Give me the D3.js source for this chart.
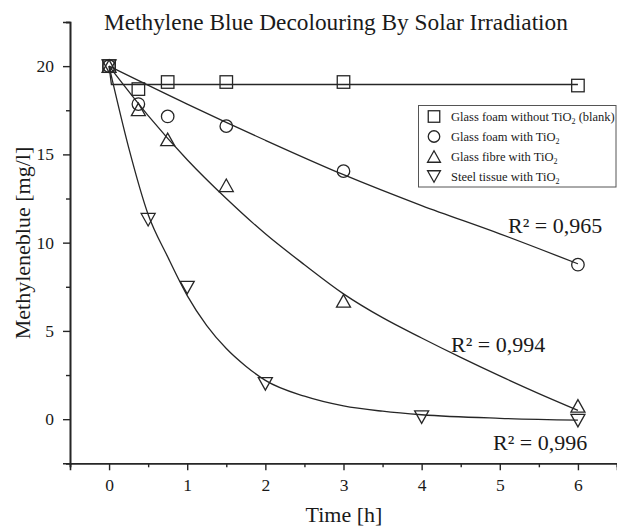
<!DOCTYPE html>
<html>
<head>
<meta charset="utf-8">
<script src="https://cdn.jsdelivr.net/npm/d3@7"></script>
<style>
  html, body { margin: 0; padding: 0; background: #fff; }
  svg { display: block; }
  text { font-family: "Liberation Serif", "Times New Roman", serif; fill: #1a1a1a; }
</style>
</head>
<body>
<svg id="chart" width="617" height="531"></svg>
<script>
// ---- data ----
const timesA = [0, 0.375, 0.75, 1.5, 3, 6];        // blank, foam, fibre sampling times
const timesSteel = [0, 0.5, 1, 2, 4, 6];            // steel sampling times
const blankVals = [20, 18.7, 19.1, 19.1, 19.1, 18.9];
const foamVals  = [20, 17.85, 17.15, 16.6, 14.05, 8.75];
const fibreVals = [20, 17.55, 15.85, 13.25, 6.7, 0.75];
const steelVals = [20, 11.3, 7.45, 2.0, 0.12, -0.08];

// fitted curves
const blankFitT = [0, 0.03, 6];
const blankFitV = [20, 18.96, 18.96];
const foamFitT  = [0, 1, 2, 3, 4, 5, 6];
const foamFitV  = [20, 17.85, 15.8, 13.85, 12.1, 10.5, 8.8];
const fibreFitT = [0, 0.5, 1, 1.5, 2, 2.5, 3, 3.5, 4, 4.5, 5, 5.5, 6];
const fibreFitV = [20, 17.2, 14.7, 12.5, 10.5, 8.75, 7.1, 5.75, 4.6, 3.5, 2.45, 1.45, 0.5];
const steelFitT = [0, 0.25, 0.5, 0.75, 1, 1.25, 1.5, 1.75, 2, 2.5, 3, 3.5, 4, 5, 6];
const steelFitV = [20, 15.4, 11.6, 9.2, 7.0, 5.3, 4.0, 3.0, 2.2, 1.3, 0.75, 0.45, 0.25, 0.05, -0.05];

const seriesNames = ["Glass foam without TiO", "Glass foam with TiO", "Glass fibre with TiO", "Steel tissue with TiO"];
const seriesSuffix = [" (blank)", "", "", ""];
const r2Labels = ["R\u00B2 = 0,965", "R\u00B2 = 0,994", "R\u00B2 = 0,996"];
const xTicks = [0, 1, 2, 3, 4, 5, 6];
const yTicks = [0, 5, 10, 15, 20];
const title = "Methylene Blue Decolouring By Solar Irradiation";
const xLabel = "Time [h]";
const yLabel = "Methyleneblue [mg/l]";

// ---- layout ----
const svg = d3.select("#chart");
const ink = "#262626";
const serif = '"Liberation Serif", "Times New Roman", serif';
const x = d3.scaleLinear().domain([-0.5, 6.5]).range([70, 617]);
const y = d3.scaleLinear().domain([-2.5, 22.5]).range([463.3, 22]);

// axes
const xAxis = d3.axisBottom(x).tickValues(xTicks).tickSize(7).tickPadding(8).tickFormat(d3.format("d"));
const xMinor = d3.axisBottom(x).tickValues(d3.range(-0.5, 6.6, 1)).tickSize(4).tickFormat("");
const yAxis = d3.axisLeft(y).tickValues(yTicks).tickSize(7).tickPadding(9).tickFormat(d3.format("d"));
const yMinor = d3.axisLeft(y).tickValues(d3.range(-2.5, 22.6, 5)).tickSize(4).tickFormat("");

function styleAxis(g) {
  g.attr("font-family", serif);
  g.select(".domain").attr("stroke", ink).attr("stroke-width", 1.6);
  g.selectAll(".tick line").attr("stroke", ink).attr("stroke-width", 1.4);
  g.selectAll(".tick text").attr("font-size", 17.5).attr("fill", "#1a1a1a").attr("font-family", serif);
}
svg.append("g").attr("transform", `translate(0,${y(-2.5)})`).call(xMinor).call(styleAxis);
svg.append("g").attr("transform", `translate(0,${y(-2.5)})`).call(xAxis).call(styleAxis);
svg.append("g").attr("transform", `translate(${x(-0.5)},0)`).call(yMinor).call(styleAxis);
svg.append("g").attr("transform", `translate(${x(-0.5)},0)`).call(yAxis).call(styleAxis);

// titles
svg.append("text").attr("x", 104).attr("y", 30).attr("font-size", 23.3).text(title);
svg.append("text").attr("x", 344).attr("y", 522).attr("text-anchor", "middle").attr("font-size", 22).text(xLabel);
svg.append("text").attr("transform", "translate(30,243) rotate(-90)").attr("text-anchor", "middle")
  .attr("font-size", 22).text(yLabel);

// fit lines
const fits = [
  [blankFitT, blankFitV, d3.curveLinear],
  [foamFitT, foamFitV, d3.curveMonotoneX],
  [fibreFitT, fibreFitV, d3.curveMonotoneX],
  [steelFitT, steelFitV, d3.curveMonotoneX]
];
fits.forEach(([ts, vs, c]) => {
  svg.append("path")
    .attr("d", d3.line().x(d => x(d[0])).y(d => y(d[1])).curve(c)(ts.map((t, i) => [t, vs[i]])))
    .attr("fill", "none").attr("stroke", ink).attr("stroke-width", 1.3);
});

// markers
function marker(g, type, cx, cy, s) {
  const sw = 1.3;
  if (type === 0) {
    g.append("rect").attr("x", cx - s / 2).attr("y", cy - s / 2).attr("width", s).attr("height", s)
      .attr("fill", "none").attr("stroke", ink).attr("stroke-width", sw);
  } else if (type === 1) {
    g.append("circle").attr("cx", cx).attr("cy", cy).attr("r", s / 2)
      .attr("fill", "none").attr("stroke", ink).attr("stroke-width", sw);
  } else if (type === 2) {
    const w = s * 1.12, h = s;
    g.append("path").attr("d", `M${cx - w / 2},${cy + h / 2}L${cx + w / 2},${cy + h / 2}L${cx},${cy - h / 2}Z`)
      .attr("fill", "none").attr("stroke", ink).attr("stroke-width", sw);
  } else {
    const w = s * 1.12, h = s;
    g.append("path").attr("d", `M${cx - w / 2},${cy - h / 2}L${cx + w / 2},${cy - h / 2}L${cx},${cy + h / 2}Z`)
      .attr("fill", "none").attr("stroke", ink).attr("stroke-width", sw);
  }
}
const pts = svg.append("g");
const dataSets = [[timesA, blankVals], [timesA, foamVals], [timesA, fibreVals], [timesSteel, steelVals]];
dataSets.forEach(([ts, vs], k) => {
  ts.forEach((t, i) => marker(pts, k, x(t), y(vs[i]), 12.5));
});

// R² labels
const r2Pos = [[508, 233], [451, 352], [493, 450]];
r2Labels.forEach((s, i) => {
  svg.append("text").attr("x", r2Pos[i][0]).attr("y", r2Pos[i][1]).attr("font-size", 22).text(s);
});

// legend
const lg = svg.append("g");
lg.append("rect").attr("x", 418.5).attr("y", 105.5).attr("width", 197.5).attr("height", 81.5)
  .attr("fill", "#fff").attr("stroke", "#555").attr("stroke-width", 1);
seriesNames.forEach((nm, i) => {
  const cy = 116.5 + i * 20;
  marker(lg, i, 434, cy, 11.5);
  const t = lg.append("text").attr("x", 451).attr("y", cy + 4.3).attr("font-size", 12.5);
  t.append("tspan").text(nm);
  t.append("tspan").attr("font-size", 8).attr("dy", 3).text("2");
  if (seriesSuffix[i]) t.append("tspan").attr("dy", -3).text(seriesSuffix[i]);
});
</script>
</body>
</html>
